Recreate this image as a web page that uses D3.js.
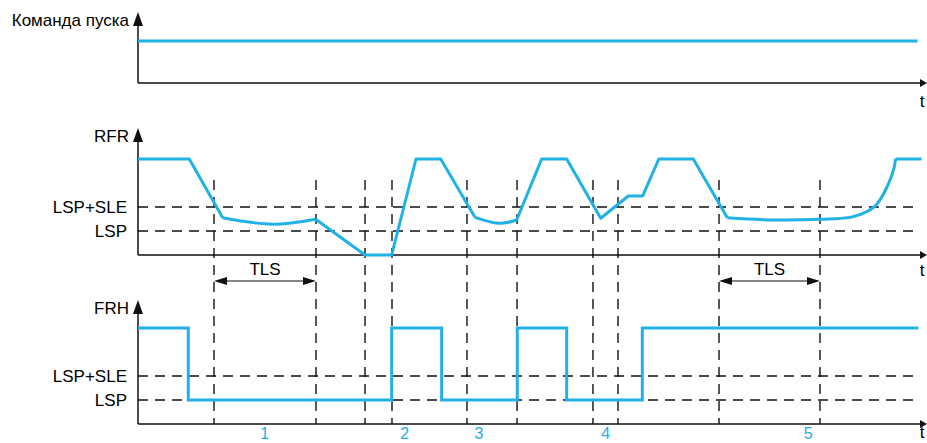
<!DOCTYPE html>
<html>
<head>
<meta charset="utf-8">
<script src="https://cdn.jsdelivr.net/npm/d3@7/dist/d3.min.js"></script>
<style>
  body { margin: 0; background: #fff; }
  text { font-family: "Liberation Sans", Arial, sans-serif; }
</style>
</head>
<body>
<div id="chart"></div>
<script>
// time runs 0..100, levels: 1 = LSP, 2 = LSP+SLE, 4 = high speed
var cmdLevel = 1.75;

// RFR reference, split where the line turns smooth
var rfrLinear1 = [[0, 4], [6.56, 4], [10.83, 1.55]];
var rfrSmooth1 = [[10.83, 1.55], [17.26, 1.28], [22.72, 1.49]];
var rfrLinear2 = [[22.72, 1.49], [29.03, 0], [32.44, 0], [35.55, 4], [38.71, 4], [43.09, 1.57]];
var rfrSmooth2 = [[43.09, 1.57], [46.29, 1.32], [48.43, 1.46]];
var rfrLinear3 = [[48.43, 1.46], [51.62, 4], [54.82, 4], [59.17, 1.53], [62.70, 2.46], [64.54, 2.46],
                  [66.6, 4], [71.01, 4], [75.36, 1.55]];
var rfrSmooth3 = [[75.36, 1.55], [81.25, 1.46], [87.21, 1.49], [91.47, 1.6], [94.25, 2.04],
                  [95.91, 2.92], [96.68, 3.63], [96.87, 4]];
var rfrLinear4 = [[96.87, 4], [100.2, 4]];

// FRH output, step changes
var frhTime = [0, 6.43, 32.44, 38.83, 48.5, 54.82, 64.49, 99.8];
var frhValue = [4, 1, 4, 1, 4, 1, 4, 4];

var markerTimes = [9.72, 22.76, 29.03, 32.48, 42.07, 48.47, 58.18, 61.38, 74.30, 87.21];
var levelNames = ["LSP", "LSP+SLE"];
var levelValues = [1, 2];
var tlsSpans = [[9.72, 22.76], [74.30, 87.21]];
var phaseLabels = ["1", "2", "3", "4", "5"];
var phaseTimes = [16.2, 34.1, 43.6, 59.8, 85.7];

var width = 927, height = 443;
var blue = "#20b2e6", ink = "#111";
var fontSize = 17;

var svg = d3.select("#chart").append("svg")
  .attr("width", width).attr("height", height);

var x = d3.scaleLinear().domain([0, 100]).range([138, 920]);

var panels = [
  { name: "Команда пуска", base: 83, top: 12, tY: 101 },
  { name: "RFR", base: 255, top: 128, tY: 270 },
  { name: "FRH", base: 424, top: 300, tY: 432 }
];
panels.forEach(function(p) {
  p.y = d3.scaleLinear().domain([0, 4]).range([p.base, p.base - 96]);
});

// vertical dashed markers (drawn first, under everything)
svg.append("g").selectAll("line")
  .data(markerTimes).enter().append("line")
    .attr("x1", function(d) { return x(d); })
    .attr("x2", function(d) { return x(d); })
    .attr("y1", 180).attr("y2", panels[2].base)
    .attr("stroke", ink).attr("stroke-width", 1.4)
    .attr("stroke-dasharray", "10,7");

// horizontal LSP / LSP+SLE dashed lines + labels
[panels[1], panels[2]].forEach(function(p) {
  var g = svg.append("g");
  g.selectAll("line")
    .data(levelValues).enter().append("line")
      .attr("x1", x(0)).attr("x2", x(99.6))
      .attr("y1", function(d) { return p.y(d); })
      .attr("y2", function(d) { return p.y(d); })
      .attr("stroke", ink).attr("stroke-width", 1.4)
      .attr("stroke-dasharray", "10,7");
  g.selectAll("text")
    .data(levelValues).enter().append("text")
      .attr("x", 127)
      .attr("y", function(d) { return p.y(d); })
      .attr("dy", "0.35em")
      .attr("text-anchor", "end")
      .attr("font-size", fontSize)
      .text(function(d, i) { return levelNames[i]; });
});

// axes
panels.forEach(function(p) {
  var g = svg.append("g");
  g.append("line")
    .attr("x1", x(0)).attr("x2", x(0))
    .attr("y1", p.top + 10).attr("y2", p.base)
    .attr("stroke", ink).attr("stroke-width", 1.5);
  g.append("line")
    .attr("x1", x(0)).attr("x2", 922)
    .attr("y1", p.base).attr("y2", p.base)
    .attr("stroke", ink).attr("stroke-width", 1.5);
  g.append("path")
    .attr("d", "M" + x(0) + "," + p.top + "L" + (x(0) - 5) + "," + (p.top + 14) +
               "L" + (x(0) + 5) + "," + (p.top + 14) + "Z")
    .attr("fill", ink);
  g.append("path")
    .attr("d", "M927," + p.base + "L920," + (p.base - 4) + "L920," + (p.base + 4) + "Z")
    .attr("fill", ink);
  g.append("text")
    .attr("x", 129).attr("y", p.top + 8)
    .attr("dy", "0.35em")
    .attr("text-anchor", "end")
    .attr("font-size", fontSize)
    .text(p.name);
  g.append("text")
    .attr("x", 922).attr("y", p.tY)
    .attr("dy", "0.35em")
    .attr("text-anchor", "middle")
    .attr("font-size", fontSize)
    .text("t");
});

// start command
svg.append("line")
  .attr("x1", x(0)).attr("x2", x(99.7))
  .attr("y1", panels[0].y(cmdLevel)).attr("y2", panels[0].y(cmdLevel))
  .attr("stroke", blue).attr("stroke-width", 3);

// RFR
var yR = panels[1].y;
var lineLin = d3.line().x(function(d) { return x(d[0]); }).y(function(d) { return yR(d[1]); });
var lineSmooth = d3.line().x(function(d) { return x(d[0]); }).y(function(d) { return yR(d[1]); })
  .curve(d3.curveCatmullRom);
[rfrLinear1, rfrLinear2, rfrLinear3, rfrLinear4].forEach(function(pts) {
  svg.append("path").attr("d", lineLin(pts))
    .attr("fill", "none").attr("stroke", blue).attr("stroke-width", 3)
    .attr("stroke-linejoin", "round");
});
[rfrSmooth1, rfrSmooth2, rfrSmooth3].forEach(function(pts) {
  svg.append("path").attr("d", lineSmooth(pts))
    .attr("fill", "none").attr("stroke", blue).attr("stroke-width", 3);
});

// FRH
var yF = panels[2].y;
var frhLine = d3.line()
  .x(function(d, i) { return x(frhTime[i]); })
  .y(function(d, i) { return yF(frhValue[i]); })
  .curve(d3.curveStepAfter);
svg.append("path").attr("d", frhLine(frhTime))
  .attr("fill", "none").attr("stroke", blue).attr("stroke-width", 3);

// TLS spans
var tlsY = panels[1].base + 26;
tlsSpans.forEach(function(s) {
  var x0 = x(s[0]), x1 = x(s[1]);
  var g = svg.append("g");
  g.append("line")
    .attr("x1", x0 + 10).attr("x2", x1 - 10)
    .attr("y1", tlsY).attr("y2", tlsY)
    .attr("stroke", ink).attr("stroke-width", 1.2);
  g.append("path")
    .attr("d", "M" + x0 + "," + tlsY + "L" + (x0 + 13) + "," + (tlsY - 4) + "L" + (x0 + 13) + "," + (tlsY + 4) + "Z")
    .attr("fill", ink);
  g.append("path")
    .attr("d", "M" + x1 + "," + tlsY + "L" + (x1 - 13) + "," + (tlsY - 4) + "L" + (x1 - 13) + "," + (tlsY + 4) + "Z")
    .attr("fill", ink);
  g.append("text")
    .attr("x", (x0 + x1) / 2).attr("y", tlsY - 12)
    .attr("dy", "0.35em")
    .attr("text-anchor", "middle")
    .attr("font-size", fontSize)
    .text("TLS");
});

// phase numbers
svg.append("g").selectAll("text")
  .data(phaseLabels).enter().append("text")
    .attr("x", function(d, i) { return x(phaseTimes[i]); })
    .attr("y", panels[2].base + 9)
    .attr("dy", "0.35em")
    .attr("text-anchor", "middle")
    .attr("font-size", 16)
    .attr("fill", "#29abe2")
    .text(function(d) { return d; });
</script>
</body>
</html>
